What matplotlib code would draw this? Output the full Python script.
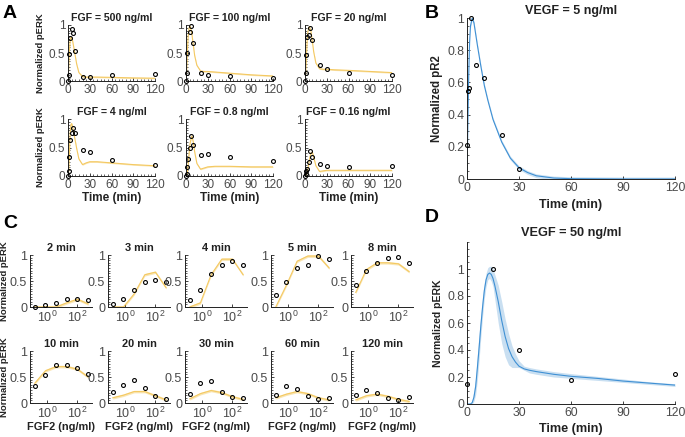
import numpy as np
import matplotlib.pyplot as plt
from matplotlib.ticker import MultipleLocator, LogLocator, NullFormatter, FixedLocator

NARROW = ['Liberation Sans Narrow', 'Liberation Sans', 'DejaVu Sans']
REGULAR = ['Liberation Sans', 'DejaVu Sans']
plt.rcParams['font.family'] = NARROW
plt.rcParams['mathtext.fontset'] = 'custom'
plt.rcParams['mathtext.rm'] = 'Liberation Sans Narrow'

W, H = 685, 437
fig = plt.figure(figsize=(W / 100, H / 100), dpi=100)

YELLOW = '#f4c962'
YELLOW_BAND = '#f9e2a8'
BLUE = '#3f90d4'
BLUE_BAND = '#c3dcf0'

# ---- panel A data: pERK time course for FGF doses ----
fgf_doses = ['500', '100', '20', '4', '0.8', '0.16']
t_a = [0, 1, 2, 3, 5, 7, 10, 20, 30, 60, 120]
perk_500 = [0, 0.11, 0.48, 0.77, 0.93, 0.85, 0.54, 0.08, 0.08, 0.11, 0.12]
perk_100 = [0, 0.15, 0.50, np.nan, 0.88, 0.99, 0.67, 0.14, 0.11, 0.09, 0.06]
perk_20 = [0, 0.15, 0.46, 0.79, 0.83, 0.94, 0.73, 0.29, 0.21, 0.14, 0.11]
perk_4 = [0, 0.08, 0.34, 0.63, 0.76, 0.85, 0.75, 0.45, 0.42, 0.28, 0.20]
perk_08 = [0, 0.04, 0.15, 0.30, 0.49, 0.70, 0.55, 0.36, 0.39, 0.33, 0.27]
perk_016 = [0, 0.03, 0.09, 0.13, 0.25, 0.43, 0.33, 0.21, 0.18, 0.16, 0.17]

# model curves
t_model = [0, 1, 2, 3, 4, 5, 6, 8, 10, 12, 15, 20, 25, 30, 40, 60, 90, 120]
fit_500 = [0, 0.25, 0.55, 0.72, 0.78, 0.78, 0.74, 0.60, 0.45, 0.30, 0.15, 0.08, 0.07, 0.07, 0.07, 0.065, 0.055, 0.05]
fit_100 = [0, 0.20, 0.55, 0.80, 0.93, 0.98, 0.97, 0.85, 0.65, 0.45, 0.28, 0.18, 0.17, 0.17, 0.16, 0.14, 0.11, 0.09]
fit_20 = [0, 0.15, 0.45, 0.72, 0.88, 0.95, 0.97, 0.90, 0.72, 0.52, 0.32, 0.22, 0.21, 0.21, 0.20, 0.19, 0.17, 0.15]
fit_4 = [0, 0.10, 0.40, 0.75, 0.90, 0.92, 0.88, 0.75, 0.62, 0.48, 0.30, 0.20, 0.23, 0.25, 0.25, 0.23, 0.20, 0.18]
fit_08 = [0, 0.02, 0.08, 0.20, 0.35, 0.50, 0.60, 0.70, 0.60, 0.42, 0.22, 0.12, 0.14, 0.16, 0.17, 0.17, 0.16, 0.16]
fit_016 = [0, 0.01, 0.03, 0.07, 0.13, 0.20, 0.28, 0.40, 0.42, 0.33, 0.18, 0.08, 0.09, 0.10, 0.10, 0.10, 0.10, 0.10]

# ---- panel B data: VEGF 5 ng/ml pR2 ----
t_b = [0, 0.5, 1, 2.3, 5.4, 10, 20, 30]
pr2_b = [0.21, 0.545, 0.565, 1.0, 0.71, 0.627, 0.275, 0.064]
t_b_model = [0, 0.5, 1, 1.5, 2, 3, 4, 5, 6, 8, 10, 12, 15, 20, 25, 30, 35, 40, 50, 60, 90, 120]
fit_b = [0, 0.35, 0.65, 0.85, 0.95, 1.0, 0.97, 0.90, 0.83, 0.70, 0.58, 0.49, 0.37, 0.23, 0.13, 0.07, 0.04, 0.02, 0.006, 0.002, 0, 0]

# ---- panel C data: pERK vs FGF2 dose at fixed times ----
fgf2 = [0.16, 0.8, 4, 20, 100, 500]
c_times = ['2', '3', '4', '5', '8', '10', '20', '30', '60', '120']
c_2 = [0.0, 0.03, 0.08, 0.15, 0.15, 0.13]
c_3 = [0.05, 0.15, 0.32, 0.48, 0.52, 0.48]
c_4 = [0.14, 0.32, 0.63, 0.80, 0.88, 0.80]
c_5 = [0.24, 0.49, 0.75, 0.81, 0.99, 0.92]
c_8 = [0.42, 0.70, 0.84, 0.94, 0.97, 0.85]
c_10 = [0.33, 0.54, 0.74, 0.74, 0.68, 0.55]
c_20 = [0.22, 0.35, 0.44, 0.29, 0.14, 0.08]
c_30 = [0.18, 0.39, 0.42, 0.22, 0.12, 0.10]
c_60 = [0.16, 0.32, 0.27, 0.14, 0.08, 0.09]
c_120 = [0.16, 0.25, 0.19, 0.10, 0.05, 0.12]
cfit_2 = [0, 0, 0, 0.08, 0.15, 0.06]
cfit_3 = [0, 0, 0.25, 0.62, 0.67, 0.37]
cfit_4 = [0, 0.08, 0.62, 0.92, 0.92, 0.62]
cfit_5 = [0, 0.42, 0.88, 0.98, 0.98, 0.75]
cfit_8 = [0.28, 0.72, 0.85, 0.85, 0.83, 0.68]
cfit_10 = [0.38, 0.62, 0.70, 0.70, 0.65, 0.50]
cfit_20 = [0.10, 0.15, 0.22, 0.22, 0.14, 0.06]
cfit_30 = [0.08, 0.18, 0.24, 0.20, 0.12, 0.07]
cfit_60 = [0.10, 0.17, 0.22, 0.18, 0.10, 0.06]
cfit_120 = [0.06, 0.14, 0.17, 0.13, 0.07, 0.03]

# ---- panel D data: VEGF 50 ng/ml pERK ----
t_d = [0, 15, 30, 60, 120]
perk_d = [0.148, 1.0, 0.40, 0.175, 0.225]
t_d_model = [0, 2, 3, 4, 5, 6, 7, 8, 9, 10, 11, 12, 13, 14, 15, 16, 18, 20, 22, 24, 26, 28, 30, 33, 36, 40, 50, 60, 75, 90, 105, 120]
fit_d = [0, 0, 0.01, 0.05, 0.13, 0.27, 0.42, 0.58, 0.72, 0.84, 0.92, 0.96, 0.97, 0.96, 0.93, 0.88, 0.76, 0.62, 0.50, 0.41, 0.35, 0.31, 0.28, 0.26, 0.25, 0.24, 0.22, 0.205, 0.19, 0.17, 0.155, 0.14]
fit_d_lo = [0, 0, 0, 0.02, 0.07, 0.18, 0.33, 0.50, 0.65, 0.78, 0.87, 0.92, 0.93, 0.91, 0.87, 0.78, 0.60, 0.45, 0.35, 0.29, 0.27, 0.27, 0.27, 0.25, 0.23, 0.22, 0.20, 0.19, 0.175, 0.16, 0.145, 0.13]
fit_d_hi = [0, 0, 0.03, 0.10, 0.20, 0.37, 0.52, 0.67, 0.80, 0.90, 0.97, 1.01, 1.02, 1.02, 1.00, 0.96, 0.88, 0.76, 0.63, 0.52, 0.43, 0.37, 0.32, 0.28, 0.27, 0.26, 0.24, 0.225, 0.205, 0.185, 0.165, 0.15]


def px_axes(x0, y0, x1, y1):
    return fig.add_axes([x0 / W, 1 - y1 / H, (x1 - x0) / W, (y1 - y0) / H])


def style(ax, tsize=8.5):
    for s in ['top', 'right']:
        ax.spines[s].set_visible(False)
    for s in ['left', 'bottom']:
        ax.spines[s].set_linewidth(0.7)
        ax.spines[s].set_color('#222222')
    ax.tick_params(direction='in', length=2.5, width=0.6, labelsize=tsize,
                   colors='#222222', labelcolor='#4a4a4a', pad=2)
    ax.tick_params(which='minor', direction='in', length=1.4, width=0.5, colors='#222222')


def points(ax, x, y):
    ax.plot(x, y, 'o', mfc='none', mec='black', ms=2.8, mew=0.8, clip_on=False, zorder=5)


def model(ax, x, y, color, band, half=0.02):
    y = np.array(y)
    ax.fill_between(x, y - half, y + half, color=band, lw=0, alpha=0.85)
    ax.plot(x, y, color=color, lw=0.8)


def bold(size, family=NARROW):
    return dict(fontsize=size, fontweight='bold', color='#222222', family=family)


# panel A
a_data = [perk_500, perk_100, perk_20, perk_4, perk_08, perk_016]
a_fit = [fit_500, fit_100, fit_20, fit_4, fit_08, fit_016]
a_cols = [(68, 155), (186, 273), (305, 392)]
a_rows = [(25, 81), (119, 176)]
for i, dose in enumerate(fgf_doses):
    r, c = divmod(i, 3)
    ax = px_axes(a_cols[c][0], a_rows[r][0], a_cols[c][1], a_rows[r][1])
    style(ax, 8.5)
    model(ax, t_model, a_fit[i], YELLOW, YELLOW_BAND, 0.012)
    points(ax, t_a, a_data[i])
    ax.set_xlim(0, 120)
    ax.set_ylim(0, 1)
    ax.set_xticks([0, 30, 60, 90, 120])
    ax.set_yticks([0, 0.5, 1])
    ax.set_yticklabels(['0', '0.5', '1'])
    ax.xaxis.set_minor_locator(MultipleLocator(5))
    ax.yaxis.set_minor_locator(MultipleLocator(0.05))
    ax.set_title(f'FGF = {dose} ng/ml', pad=3, **bold(7.6))
    if c == 0:
        ax.set_ylabel('Normalized pERK', labelpad=3, **bold(6.8, REGULAR))
    if r == 1:
        ax.set_xlabel('Time (min)', labelpad=1, **bold(8.5))

# panel B
ax = px_axes(467, 18, 675, 179)
style(ax, 8.8)
model(ax, t_b_model, fit_b, BLUE, BLUE_BAND, 0.012)
points(ax, t_b, pr2_b)
ax.set_xlim(0, 120)
ax.set_ylim(0, 1)
ax.set_xticks([0, 30, 60, 90, 120])
ax.set_yticks([0, 0.2, 0.4, 0.6, 0.8, 1])
ax.set_yticklabels(['0', '0.2', '0.4', '0.6', '0.8', '1'])
ax.yaxis.set_minor_locator(MultipleLocator(0.05))
ax.set_title('VEGF = 5 ng/ml', pad=3, **bold(9))
ax.set_ylabel('Normalized pR2', labelpad=3, **bold(8.3, REGULAR))
ax.set_xlabel('Time (min)', labelpad=4, **bold(9))

# panel C
c_data = [c_2, c_3, c_4, c_5, c_8, c_10, c_20, c_30, c_60, c_120]
c_fit = [cfit_2, cfit_3, cfit_4, cfit_5, cfit_8, cfit_10, cfit_20, cfit_30, cfit_60, cfit_120]
c_lefts = [30, 108, 185, 271, 351]
c_rows = [(255, 307), (351, 403)]
for i, tm in enumerate(c_times):
    r, c = divmod(i, 5)
    ax = px_axes(c_lefts[c], c_rows[r][0], c_lefts[c] + 62, c_rows[r][1])
    style(ax, 9)
    ax.set_xscale('log')
    model(ax, fgf2, c_fit[i], YELLOW, YELLOW_BAND, 0.025)
    points(ax, fgf2, c_data[i])
    ax.set_xlim(0.078, 900)
    ax.set_ylim(0, 1)
    ax.xaxis.set_major_locator(FixedLocator([1, 100]))
    ax.xaxis.set_minor_locator(LogLocator(base=10, subs=np.arange(2, 10)))
    ax.xaxis.set_minor_formatter(NullFormatter())
    ax.set_yticks([0, 0.5, 1])
    ax.set_yticklabels(['0', '0.5', '1'])
    ax.yaxis.set_minor_locator(MultipleLocator(0.05))
    ax.set_title(f'{tm} min', pad=3, **bold(7.9))
    if c == 0:
        ax.set_ylabel('Normalized pERK', labelpad=1, **bold(6.8, REGULAR))
    if r == 1:
        ax.set_xlabel('FGF2 (ng/ml)', labelpad=1, **bold(7.9))

# panel D
ax = px_axes(467, 242, 675, 404)
style(ax, 8.8)
ax.fill_between(t_d_model, fit_d_lo, fit_d_hi, color=BLUE_BAND, lw=0, alpha=0.9)
ax.plot(t_d_model, fit_d, color=BLUE, lw=0.8)
points(ax, t_d, perk_d)
ax.set_xlim(0, 120)
ax.set_ylim(0, 1.2)
ax.set_xticks([0, 30, 60, 90, 120])
ax.set_yticks([0, 0.2, 0.4, 0.6, 0.8, 1])
ax.set_yticklabels(['0', '0.2', '0.4', '0.6', '0.8', '1'])
ax.yaxis.set_minor_locator(MultipleLocator(0.05))
ax.set_title('VEGF = 50 ng/ml', pad=4, **bold(9.2))
ax.set_ylabel('Normalized pERK', labelpad=3, **bold(7.5, REGULAR))
ax.set_xlabel('Time (min)', labelpad=3, **bold(9.1))

# panel letters
for letter, x, y in [('A', 3, 13), ('B', 425, 13), ('C', 3, 223), ('D', 425, 218)]:
    fig.text(x / W, 1 - y / H, letter, fontsize=14, fontweight='bold', va='center', ha='left',
             family=NARROW)

fig.savefig('out.png', dpi=100)
